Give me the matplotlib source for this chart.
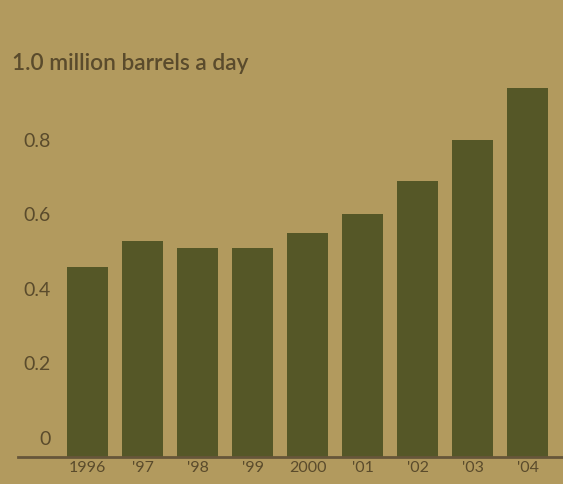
import numpy as np
import matplotlib.pyplot as plt
from matplotlib import transforms

#--------------------------------------------------------------------------#
# data
years = ['1996', "'97", "'98", "'99", '2000', "'01", "'02", "'03", "'04"]
barrels = [0.51, 0.58, 0.56, 0.56, 0.60, 0.65, 0.74, 0.85, 0.99]
ytick_vals = [0, 0.2, 0.4, 0.6, 0.8]
ytick_labels = ['0', '0.2', '0.4', '0.6', '0.8']
unit_label = '1.0 million barrels a day'

#--------------------------------------------------------------------------#
plt.rcParams['font.family'] = ['Lato', 'DejaVu Sans']

bg = '#b29a5e'
bar_col = '#555727'
txt_col = '#5a4b2c'

fig = plt.figure(figsize=(5.63, 4.84), dpi=100, facecolor=bg)
ax = fig.add_axes([0.032, 0.0557, 0.968, 0.771], facecolor=bg)

x = np.arange(len(years))
ax.bar(x, barrels, width=0.75, color=bar_col, zorder=2)

ax.set_xlim(-1.264, 8.64)
ax.set_ylim(0, 1.0)
for s in ax.spines.values():
    s.set_visible(False)
ax.axhline(0, color='#66563a', lw=2, zorder=3, clip_on=False)

ax.set_xticks(x)
ax.set_xticklabels(years, fontsize=11.5, color=txt_col)
ax.tick_params(axis='x', length=0, pad=3)
ax.set_yticks([])

# y labels sit just above their (invisible) gridlines
trans = transforms.blended_transform_factory(fig.transFigure, ax.transData)
for v, lab in zip(ytick_vals, ytick_labels):
    ax.text(0.09, v + 0.024, lab, transform=trans, ha='right', va='bottom',
            fontsize=14, color=txt_col)
ax.text(0.021, 1.0 + 0.026, unit_label, transform=trans, ha='left',
        va='bottom', fontsize=16.3, color=txt_col, fontweight='semibold')

fig.savefig('out.png', dpi=100, facecolor=bg)
